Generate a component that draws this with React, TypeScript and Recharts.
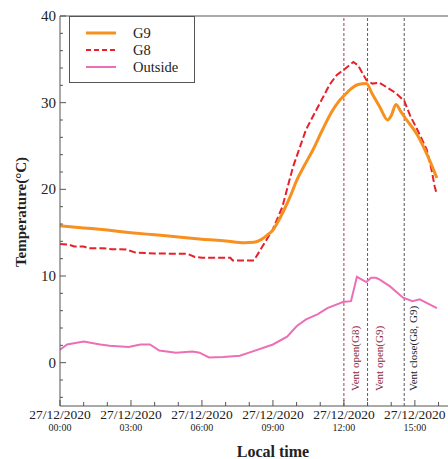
import React from 'react';
import { LineChart, Line, XAxis, YAxis, ReferenceLine, Legend } from 'recharts';

// ---- data (hours since 27/12/2020 00:00, temperature °C) ----
const g9Hours = [0, 1, 2, 3, 4, 5, 6, 7, 7.8, 8.2, 8.5, 8.75, 9.0, 9.2, 9.45, 9.75, 10.0, 10.3, 10.7, 11.1, 11.5, 11.8, 12.0, 12.3, 12.6, 12.95, 13.2, 13.5, 13.85, 14.0, 14.2, 14.4, 14.6, 15.1, 15.55, 15.93];
const g9Temps = [15.8, 15.55, 15.3, 15.0, 14.75, 14.5, 14.25, 14.05, 13.85, 13.9, 14.2, 14.7, 15.3, 16.2, 17.5, 19.3, 21.0, 22.6, 24.6, 26.9, 29.0, 30.2, 30.8, 31.6, 32.1, 32.2, 31.0, 29.6, 28.0, 28.5, 29.8, 29.0, 28.2, 26.3, 23.8, 21.3];

const g8Hours = [0, 0.4, 0.6, 1.0, 1.2, 1.8, 2.2, 2.8, 3.2, 4.0, 5.4, 5.7, 6.0, 7.2, 7.3, 8.2, 9.0, 9.4, 9.85, 10.4, 10.9, 11.4, 11.7, 12.0, 12.4, 12.6, 12.95, 13.2, 13.5, 13.8, 14.2, 14.55, 14.8, 15.1, 15.5, 15.7, 15.84, 15.93];
const g8Temps = [13.7, 13.6, 13.4, 13.4, 13.2, 13.2, 13.1, 13.05, 12.7, 12.6, 12.55, 12.2, 12.1, 12.1, 11.8, 11.8, 15.4, 18.0, 22.6, 26.9, 29.5, 32.1, 33.2, 33.8, 34.7, 34.3, 32.6, 32.2, 32.3, 31.8, 31.1, 30.2, 28.5, 26.9, 24.6, 22.3, 20.3, 19.4];

const outHours = [0, 0.3, 1.0, 1.7, 2.1, 2.9, 3.4, 3.8, 4.2, 4.9, 5.6, 5.9, 6.3, 6.9, 7.6, 8.15, 9.0, 9.6, 10.0, 10.4, 10.9, 11.3, 11.96, 12.3, 12.55, 12.95, 13.15, 13.35, 13.5, 13.95, 14.5, 14.9, 15.2, 15.93];
const outTemps = [1.5, 2.1, 2.45, 2.1, 1.95, 1.8, 2.1, 2.1, 1.4, 1.15, 1.3, 1.15, 0.6, 0.65, 0.8, 1.3, 2.1, 3.0, 4.2, 5.0, 5.6, 6.3, 7.0, 7.1, 9.9, 9.3, 9.8, 9.8, 9.6, 8.8, 7.5, 7.1, 7.3, 6.3];

const seriesNames = ['G9', 'G8', 'Outside'];

const xTickHours = [0, 3, 6, 9, 12, 15];
const xTickDates = ['27/12/2020', '27/12/2020', '27/12/2020', '27/12/2020', '27/12/2020', '27/12/2020'];
const xTickTimes = ['00:00', '03:00', '06:00', '09:00', '12:00', '15:00'];
const xMinorHours = [0, 1, 2, 3, 4, 5, 6, 7, 8, 9, 10, 11, 12, 13, 14, 15, 16];

const yMajorTicks = [0, 10, 20, 30, 40];
const yAllTicks = [-4, -2, 0, 2, 4, 6, 8, 10, 12, 14, 16, 18, 20, 22, 24, 26, 28, 30, 32, 34, 36, 38, 40];

const ventHours = [12, 13, 14.55];
const ventLabels = ['Vent open(G8)', 'Vent open(G9)', 'Vent close(G8, G9)'];

// ---- build tables ----
const toRows = (hs: number[], vs: number[]) => hs.map((t, i) => ({ t, v: vs[i] }));
const g9Data = toRows(g9Hours, g9Temps);
const g8Data = toRows(g8Hours, g8Temps);
const outData = toRows(outHours, outTemps);

const FONT = '"Liberation Serif", "Times New Roman", serif';
const AXIS = '#555';
const C_G9 = '#f7901e';
const C_G8 = '#e8202a';
const C_OUT = '#ec6fb6';
const VENT_COLORS = ['#9a4452', '#9a4452', '#555555'];
const VENT_TEXT = ['#8a2a38', '#8a2a38', '#222222'];
const VENT_DX = [11, 11, 9];

const XTick = (props: any) => {
  const { x, y, payload } = props;
  const v = payload.value;
  const idx = xTickHours.indexOf(v);
  const major = idx >= 0;
  return (
    <g>
      <line x1={x} x2={x} y1={y} y2={y - (major ? 6 : 4)} stroke={AXIS} strokeWidth={1} />
      {major && (
        <text x={x} y={y + 13} textAnchor="middle" fontSize={13.5} fill="#222" fontFamily={FONT} style={{ fontFamily: FONT }}>
          {xTickDates[idx]}
        </text>
      )}
      {major && (
        <text x={x} y={y + 25} textAnchor="middle" fontSize={10} fill="#222" fontFamily={FONT} style={{ fontFamily: FONT }}>
          {xTickTimes[idx]}
        </text>
      )}
    </g>
  );
};

const YTick = (props: any) => {
  const { x, y, payload } = props;
  const v = payload.value;
  const major = yMajorTicks.indexOf(v) >= 0;
  return (
    <g>
      <line x1={x} x2={x + (major ? 6 : 3)} y1={y} y2={y} stroke={AXIS} strokeWidth={1} />
      {major && (
        <text x={x - 4} y={y + 5} textAnchor="end" fontSize={15} fill="#222" fontFamily={FONT} style={{ fontFamily: FONT }}>
          {v}
        </text>
      )}
    </g>
  );
};

const VentLabel = (i: number) => (props: any) => {
  const vb = props.viewBox || {};
  const lx = vb.x + VENT_DX[i];
  const ly = vb.y + vb.height - 15;
  return (
    <text
      x={lx}
      y={ly}
      transform={`rotate(-90 ${lx} ${ly})`}
      textAnchor="start"
      dominantBaseline="central"
      fontSize={11}
      fill={VENT_TEXT[i]}
      fontFamily={FONT}
      style={{ fontFamily: FONT }}
    >
      {ventLabels[i]}
    </text>
  );
};

const LegendBox = () => {
  const styles = [
    { stroke: C_G9, width: 3, dash: undefined as string | undefined },
    { stroke: C_G8, width: 2, dash: '5 3' },
    { stroke: C_OUT, width: 2, dash: undefined },
  ];
  return (
    <div
      style={{
        width: 126,
        height: 67,
        border: '1px solid #555',
        background: '#fff',
        boxSizing: 'border-box',
        position: 'relative',
        fontFamily: FONT,
      }}
    >
      <svg width={124} height={65} style={{ position: 'absolute', left: 0, top: 0, fontFamily: FONT }}>
        {seriesNames.map((n, i) => {
          const yy = 16 + i * 17;
          return (
            <g key={n}>
              <line x1={16} x2={46} y1={yy} y2={yy} stroke={styles[i].stroke} strokeWidth={styles[i].width} strokeDasharray={styles[i].dash} />
              <text x={63} y={yy + 5} fontSize={14.5} fontFamily={FONT} style={{ fontFamily: FONT }} fill="#222">
                {n}
              </text>
            </g>
          );
        })}
      </svg>
    </div>
  );
};

export default function App() {
  return (
    <div style={{ fontFamily: FONT }}>
      <style>{`body{margin:0;overflow:hidden;background:#fff}`}</style>
      <LineChart width={448} height={459} margin={{ top: 16, right: 0, bottom: 0, left: 0 }} style={{ fontFamily: FONT }}>
        <XAxis
          type="number"
          dataKey="t"
          domain={[0, 16.4]}
          ticks={xMinorHours}
          interval={0}
          allowDataOverflow
          tickSize={0}
          tickMargin={0}
          tickLine={false}
          axisLine={{ stroke: AXIS }}
          tick={<XTick />}
          height={53}
          label={{
            content: () => (
              <text x={273} y={457} textAnchor="middle" fontSize={16} fontWeight="bold" fill="#222" fontFamily={FONT} style={{ fontFamily: FONT }}>
                Local time
              </text>
            ),
          }}
        />
        <YAxis
          type="number"
          domain={[-5, 40]}
          ticks={yAllTicks}
          interval={0}
          allowDataOverflow
          tickSize={0}
          tickMargin={0}
          tickLine={false}
          axisLine={{ stroke: AXIS }}
          tick={<YTick />}
          width={60}
          label={{
            content: () => (
              <text
                x={21}
                y={212}
                transform="rotate(-90 21 212)"
                textAnchor="middle"
                dominantBaseline="central"
                fontSize={15}
                fontWeight="bold"
                fill="#222"
                fontFamily={FONT}
                style={{ fontFamily: FONT }}
              >
                Temperature(°C)
              </text>
            ),
          }}
        />
        <ReferenceLine y={40} stroke={AXIS} strokeWidth={1} />
        {ventHours.map((h, i) => (
          <ReferenceLine
            key={h}
            x={h}
            stroke={VENT_COLORS[i]}
            strokeDasharray="3 2"
            strokeWidth={1}
            label={VentLabel(i)}
          />
        ))}
        <Line data={outData} dataKey="v" name={seriesNames[2]} stroke={C_OUT} strokeWidth={2} dot={false} isAnimationActive={false} type="linear" />
        <Line data={g8Data} dataKey="v" name={seriesNames[1]} stroke={C_G8} strokeWidth={2} strokeDasharray="7 3" dot={false} isAnimationActive={false} type="linear" />
        <Line data={g9Data} dataKey="v" name={seriesNames[0]} stroke={C_G9} strokeWidth={3} dot={false} isAnimationActive={false} type="monotone" />
        <Legend
          layout="vertical"
          align="center"
          verticalAlign="middle"
          content={() => <LegendBox />}
          wrapperStyle={{ left: 69, top: 16, width: 126, height: 67 }}
        />
      </LineChart>
    </div>
  );
}
